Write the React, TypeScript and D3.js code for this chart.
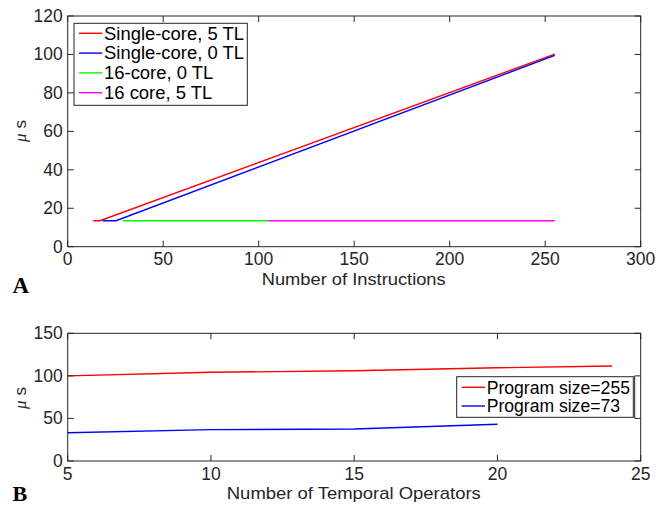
import React from "react";
import * as d3 from "d3";

// ---------- Data: panel A ----------
const aXTicks = [0, 50, 100, 150, 200, 250, 300];
const aYTicks = [0, 20, 40, 60, 80, 100, 120];
const singleCore5X = [13.4, 16.9, 255];
const singleCore5Y = [13.5, 13.5, 100.2];
const singleCore0X = [18.3, 25.3, 255];
const singleCore0Y = [13.5, 13.5, 99.5];
const core16_0X = [28.7, 105];
const core16_0Y = [13.5, 13.5];
const core16_5X = [105, 255];
const core16_5Y = [13.5, 13.5];
const aSeriesNames = ["Single-core, 5 TL", "Single-core, 0 TL", "16-core, 0 TL", "16 core, 5 TL"];
const aSeriesColors = ["#ff0000", "#0000ff", "#00ff00", "#ff00ff"];

// ---------- Data: panel B ----------
const bXTicks = [5, 10, 15, 20, 25];
const bYTicks = [0, 50, 100, 150];
const prog255X = [5, 10, 15, 20, 24];
const prog255Y = [100, 104.2, 106, 109.5, 111.6];
const prog73X = [5, 10, 15, 20];
const prog73Y = [33.2, 36.8, 37.6, 43.1];
const bSeriesNames = ["Program size=255", "Program size=73"];
const bSeriesColors = ["#ff0000", "#0000ff"];

const AX = "#262626";
const FONT = "'Liberation Sans', Arial, Helvetica, sans-serif";

type Pt = [number, number];
const zip = (xs: number[], ys: number[]): Pt[] => xs.map((x, i) => [x, ys[i]]);

function Frame({ x, y, xTicks, yTicks, tick = 6 }: any) {
  const [x0, x1] = x.range();
  const [y0, y1] = y.range(); // y0 bottom, y1 top
  return (
    <g>
      <rect x={x0} y={y1} width={x1 - x0} height={y0 - y1} fill="none" stroke={AX} strokeWidth={1} />
      {xTicks.map((t: number) => (
        <g key={"xt" + t}>
          <line x1={x(t)} x2={x(t)} y1={y0} y2={y0 - tick} stroke={AX} />
          <line x1={x(t)} x2={x(t)} y1={y1} y2={y1 + tick} stroke={AX} />
          <text x={x(t)} y={y0 + 18.5} textAnchor="middle" fontSize={17.5} fill={AX} fontFamily={FONT}>{t}</text>
        </g>
      ))}
      {yTicks.map((t: number) => (
        <g key={"yt" + t}>
          <line x1={x0} x2={x0 + tick} y1={y(t)} y2={y(t)} stroke={AX} />
          <line x1={x1} x2={x1 - tick} y1={y(t)} y2={y(t)} stroke={AX} />
          <text x={x0 - 5} y={y(t) + 6} textAnchor="end" fontSize={17.5} fill={AX} fontFamily={FONT}>{t}</text>
        </g>
      ))}
    </g>
  );
}

export default function App() {
  // Panel A scales
  const ax = d3.scaleLinear().domain([0, 300]).range([67.7, 640.7]);
  const ay = d3.scaleLinear().domain([0, 120]).range([246.7, 16]);
  const aLine = d3.line<Pt>().x((d) => ax(d[0])).y((d) => ay(d[1]));
  const aSeries = [
    zip(singleCore5X, singleCore5Y),
    zip(singleCore0X, singleCore0Y),
    zip(core16_0X, core16_0Y),
    zip(core16_5X, core16_5Y),
  ];

  // Panel B scales
  const bx = d3.scaleLinear().domain([5, 25]).range([67.7, 640.7]);
  const by = d3.scaleLinear().domain([0, 150]).range([461, 333.3]);
  const bLine = d3.line<Pt>().x((d) => bx(d[0])).y((d) => by(d[1]));
  const bSeries = [zip(prog255X, prog255Y), zip(prog73X, prog73Y)];

  const aLegRows = [33.3, 53.1, 72.9, 92.7];
  const aLegLen = [140, 140, 109.3, 108.3];
  const bLegRows = [387.3, 406];
  const bLegLen = [143.3, 133.3];

  return (
    <svg width={665} height={506} style={{ position: "absolute", left: 0, top: 0, background: "#fff" }}>
      <rect width={665} height={506} fill="#fff" />
      {/* ---------- Panel A ---------- */}
      {aSeries.map((s, i) => (
        <path key={"a" + i} d={aLine(s) || ""} fill="none" stroke={aSeriesColors[i]} strokeWidth={1.4} />
      ))}
      <Frame x={ax} y={ay} xTicks={aXTicks} yTicks={aYTicks} />
      <text x={353.7} y={285} textAnchor="middle" fontSize={17} fill={AX} fontFamily={FONT} textLength={184} lengthAdjust="spacingAndGlyphs">Number of Instructions</text>
      <text transform="translate(26,131) rotate(-90)" textAnchor="middle" fontSize={17} fill={AX} fontFamily={FONT}>
        <tspan fontStyle="italic" fontFamily="'Liberation Serif', serif">μ</tspan> s
      </text>
      <text x={12.5} y={292.7} fontSize={23} fontWeight="bold" fontFamily="'Liberation Serif', 'Times New Roman', serif" fill="#000">A</text>
      <rect x={74} y={23.3} width={173.3} height={82} fill="#fff" stroke={AX} strokeWidth={1} />
      {aSeriesNames.map((n, i) => (
        <g key={"al" + i}>
          <line x1={79} x2={102.3} y1={aLegRows[i]} y2={aLegRows[i]} stroke={aSeriesColors[i]} strokeWidth={1.4} />
          <text x={104} y={aLegRows[i] + 6.2} fontSize={17.5} fill="#000" fontFamily={FONT} textLength={aLegLen[i]} lengthAdjust="spacingAndGlyphs">{n}</text>
        </g>
      ))}

      {/* ---------- Panel B ---------- */}
      {bSeries.map((s, i) => (
        <path key={"b" + i} d={bLine(s) || ""} fill="none" stroke={bSeriesColors[i]} strokeWidth={1.4} />
      ))}
      <Frame x={bx} y={by} xTicks={bXTicks} yTicks={bYTicks} />
      <text x={353.8} y={499.3} textAnchor="middle" fontSize={17} fill={AX} fontFamily={FONT} textLength={254} lengthAdjust="spacingAndGlyphs">Number of Temporal Operators</text>
      <text transform="translate(26,398) rotate(-90)" textAnchor="middle" fontSize={17} fill={AX} fontFamily={FONT}>
        <tspan fontStyle="italic" fontFamily="'Liberation Serif', serif">μ</tspan> s
      </text>
      <text x={12.5} y={500.5} fontSize={22} fontWeight="bold" fontFamily="'Liberation Serif', 'Times New Roman', serif" fill="#000">B</text>
      <line x1={634.7} x2={634.7} y1={by(100)} y2={by(50)} stroke={AX} strokeWidth={1} />
      <rect x={456.7} y={376.7} width={176.6} height={40.6} fill="#fff" stroke={AX} strokeWidth={1} />
      {bSeriesNames.map((n, i) => (
        <g key={"bl" + i}>
          <line x1={461.7} x2={485} y1={bLegRows[i]} y2={bLegRows[i]} stroke={bSeriesColors[i]} strokeWidth={1.4} />
          <text x={486.7} y={bLegRows[i] + 6.2} fontSize={17.5} fill="#000" fontFamily={FONT} textLength={bLegLen[i]} lengthAdjust="spacingAndGlyphs">{n}</text>
        </g>
      ))}
    </svg>
  );
}
